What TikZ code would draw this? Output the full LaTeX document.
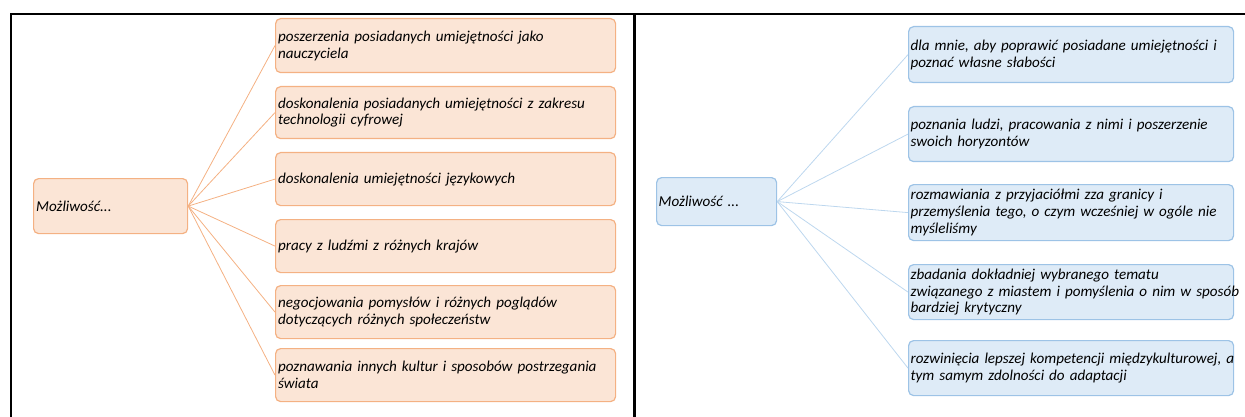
\documentclass[tikz,border=0pt]{standalone}
\usepackage{fontspec}
\setmainfont{Carlito}
\hbadness=10000 \hfuzz=50pt
\definecolor{ofill}{HTML}{FBE5D6}
\definecolor{oline}{HTML}{F4B183}
\definecolor{bfill}{HTML}{DEEBF7}
\definecolor{bline}{HTML}{9DC3E6}
\definecolor{bconn}{HTML}{BDD7EE}
\tikzset{
  obox/.style={draw=oline, fill=ofill, line width=1.2pt, rounded corners=5pt, anchor=north west,
    inner xsep=2.5pt, inner ysep=0pt, align=left, font=\fontsize{15.1}{16.8}\selectfont\itshape},
  bbox/.style={draw=bline, fill=bfill, line width=1.2pt, rounded corners=5pt, anchor=north west,
    inner xsep=2pt, inner ysep=0pt, align=left, font=\fontsize{15.1}{16.8}\selectfont\itshape},
  oconn/.style={draw=oline, line width=0.8pt},
  bconnl/.style={draw=bconn, line width=0.8pt},
  frame/.style={line width=2.7pt, black}
}
\begin{document}
\begin{tikzpicture}[x=1pt, y=-1pt]
\useasboundingbox (0,0) rectangle (1245,417);
% frame
\draw[frame] (11,417) -- (11,14) -- (1245,14);
\draw[frame] (634.5,14) -- (634.5,417);
% left panel
\node[obox, minimum width=154pt, minimum height=55pt, text width=149pt] (L) at (33,178) {Możliwość...};
\node[obox, minimum width=340pt, minimum height=54pt, text width=335pt] (L1) at (275,18) {poszerzenia posiadanych umiejętności jako\\nauczyciela};
\node[obox, minimum width=340pt, minimum height=52pt, text width=335pt] (L2) at (275,86) {doskonalenia posiadanych umiejętności z zakresu\\technologii cyfrowej};
\node[obox, minimum width=340pt, minimum height=53pt, text width=335pt] (L3) at (275,152) {doskonalenia umiejętności językowych};
\node[obox, minimum width=340pt, minimum height=53pt, text width=335pt] (L4) at (275,219) {pracy z ludźmi z różnych krajów};
\node[obox, minimum width=340pt, minimum height=53pt, text width=335pt] (L5) at (275,285) {negocjowania pomysłów i różnych poglądów\\dotyczących różnych społeczeństw};
\node[obox, minimum width=340pt, minimum height=53pt, text width=335pt] (L6) at (275,348) {poznawania innych kultur i sposobów postrzegania\\świata};
\foreach \n in {L1,L2,L3,L4,L5,L6} \draw[oconn] (L.east) -- (\n.west);
% right panel
\node[bbox, minimum width=120pt, minimum height=48pt, text width=116pt] (R) at (656,177) {Możliwość ...};
\node[bbox, minimum width=325pt, minimum height=56pt, text width=321pt] (R1) at (908,26) {\mbox{dla mnie, aby poprawić posiadane umiejętności i}\\poznać własne słabości};
\node[bbox, minimum width=325pt, minimum height=55pt, text width=321pt] (R2) at (908,106) {\mbox{poznania ludzi, pracowania z nimi i poszerzenie}\\swoich horyzontów};
\node[bbox, minimum width=325pt, minimum height=56pt, text width=321pt] (R3) at (908,184) {rozmawiania z przyjaciółmi zza granicy i\\\mbox{przemyślenia tego, o czym wcześniej w ogóle nie}\\myśleliśmy};
\node[bbox, minimum width=325pt, minimum height=55pt, text width=321pt] (R4) at (908,264) {zbadania dokładniej wybranego tematu\\\mbox{związanego z miastem i pomyślenia o nim w sposób}\\bardziej krytyczny};
\node[bbox, minimum width=325pt, minimum height=55pt, text width=321pt] (R5) at (908,340) {\mbox{rozwinięcia lepszej kompetencji międzykulturowej, a}\\tym samym zdolności do adaptacji};
\foreach \n in {R1,R2,R3,R4,R5} \draw[bconnl] (R.east) -- (\n.west);
\end{tikzpicture}
\end{document}
